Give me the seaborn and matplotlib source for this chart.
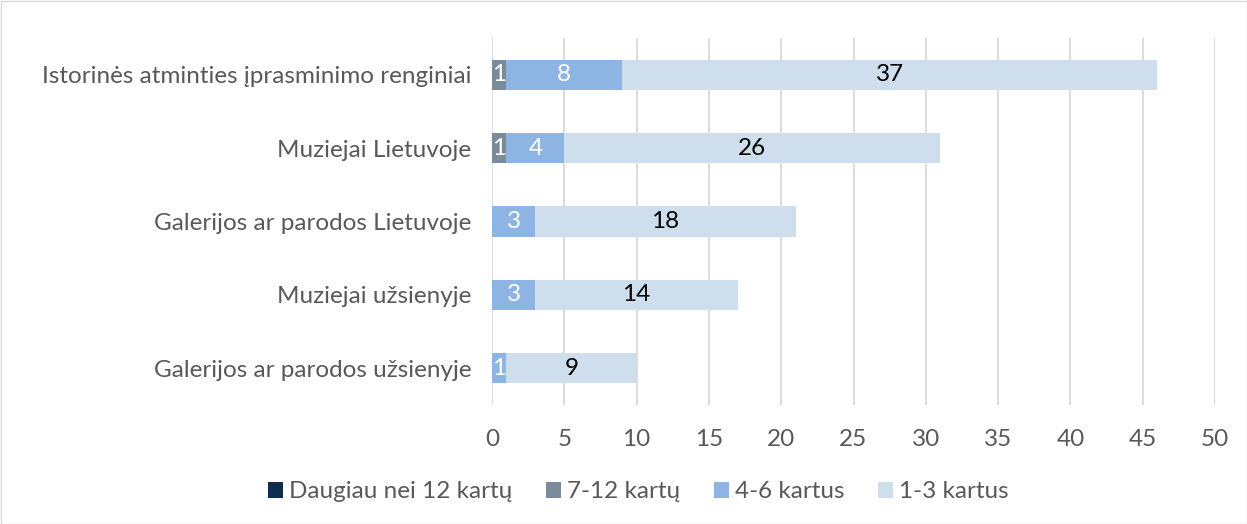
import matplotlib
matplotlib.use("Agg")
import matplotlib.pyplot as plt
import seaborn as sns
import numpy as np
import pandas as pd
from matplotlib.patches import Patch, Rectangle

categories = ["Istorinės atminties įprasminimo renginiai", "Muziejai Lietuvoje",
              "Galerijos ar parodos Lietuvoje", "Muziejai užsienyje",
              "Galerijos ar parodos užsienyje"]
series_names = ["Daugiau nei 12 kartų", "7-12 kartų", "4-6 kartus", "1-3 kartus"]
v_12plus = [0, 0, 0, 0, 0]
v_7_12 = [1, 1, 0, 0, 0]
v_4_6 = [8, 4, 3, 3, 1]
v_1_3 = [37, 26, 18, 14, 9]
x_ticks = [0, 5, 10, 15, 20, 25, 30, 35, 40, 45, 50]

colors = ["#0F2E4D", "#7A8B9C", "#8DB4E2", "#CFDEED"]
label_colors = ["white", "white", "white", "black"]

sns.set_theme(style="white")
plt.rcParams['font.family'] = ['Lato', 'DejaVu Sans']
FS = 17.5

fig = plt.figure(figsize=(12.47, 5.24), dpi=100)
ax = fig.add_axes([492/1247, 1-405/524, (1215-492)/1247, (405-38)/524])

series = [v_12plus, v_7_12, v_4_6, v_1_3]
arr = np.array(series, dtype=float)
cum = np.cumsum(arr, axis=0)

# draw from largest cumulative to smallest
for i in range(3, -1, -1):
    df = pd.DataFrame({"cat": categories, "val": cum[i]})
    sns.barplot(data=df, y="cat", x="val", orient="h", color=colors[i],
                saturation=1, width=0.41, ax=ax, zorder=2, linewidth=0)

for i in range(4):
    starts = cum[i] - arr[i]
    for j in range(len(categories)):
        v = arr[i][j]
        if v > 0:
            ax.text(starts[j] + v/2, j, f"{int(v)}", ha="center", va="center",
                    color=label_colors[i], fontsize=FS, zorder=5)

ax.set_xlim(0, 50)
ax.set_ylim(len(categories)-0.5, -0.5)
ax.set_xticks(x_ticks)
ax.set_xticklabels([str(t) for t in x_ticks])
ax.xaxis.grid(True, color="#D9D9D9", linewidth=1.3, zorder=0)
ax.yaxis.grid(False)
ax.set_axisbelow(True)
for s in ax.spines.values():
    s.set_visible(False)
ax.set_xlabel("")
ax.set_ylabel("")
ax.tick_params(axis="x", colors="#595959", labelsize=FS, length=0, pad=17)
ax.tick_params(axis="y", colors="#595959", labelsize=FS, length=0, pad=15)

handles = [Patch(facecolor=c, edgecolor="none") for c in colors]
fig.legend(handles, series_names, loc="center", bbox_to_anchor=(0.512, 1-492/524),
           ncol=4, frameon=False, fontsize=FS, labelcolor="#595959",
           handlelength=0.6, handleheight=0.6, handletextpad=0.25, columnspacing=1.4)

fig.patches.append(Rectangle((0.5/1247, 0.5/524), 1-1/1247, 1-1/524, transform=fig.transFigure,
                             fill=False, edgecolor="#D9D9D9", linewidth=1))

fig.savefig("out.png", dpi=100, facecolor="white")
